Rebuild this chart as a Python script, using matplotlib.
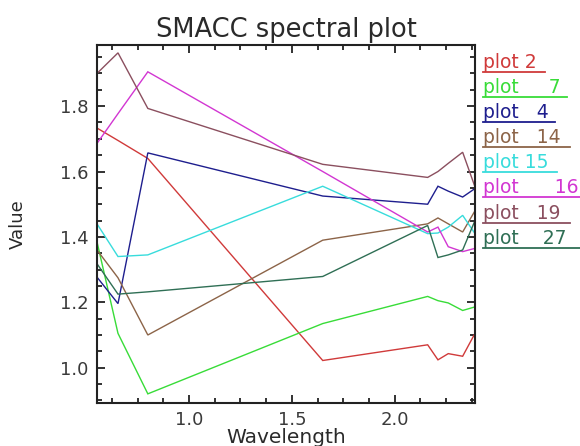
import matplotlib
matplotlib.use("Agg")
import matplotlib.pyplot as plt
from matplotlib.ticker import MultipleLocator, FormatStrFormatter
from matplotlib.lines import Line2D

# ---- data ----
wavelength = [0.553, 0.655, 0.80, 1.65, 2.16, 2.21, 2.26, 2.33, 2.39]

plot_2 = [1.733, 1.695, 1.640, 1.022, 1.070, 1.024, 1.043, 1.035, 1.105]
plot_7 = [1.385, 1.105, 0.920, 1.135, 1.218, 1.205, 1.198, 1.175, 1.186]
plot_4 = [1.277, 1.196, 1.657, 1.525, 1.500, 1.555, 1.540, 1.522, 1.548]
plot_14 = [1.360, 1.275, 1.100, 1.390, 1.440, 1.458, 1.440, 1.415, 1.480]
plot_15 = [1.440, 1.340, 1.345, 1.555, 1.410, 1.412, 1.430, 1.466, 1.410]
plot_16 = [1.686, 1.777, 1.905, 1.600, 1.415, 1.430, 1.370, 1.355, 1.365]
plot_19 = [1.900, 1.963, 1.793, 1.622, 1.582, 1.600, 1.625, 1.659, 1.553]
plot_27 = [1.318, 1.225, 1.232, 1.279, 1.435, 1.337, 1.345, 1.360, 1.450]

series_names = ["plot 2", "plot     7", "plot   4", "plot   14",
                "plot 15", "plot      16", "plot   19", "plot    27"]
series_values = [plot_2, plot_7, plot_4, plot_14, plot_15, plot_16, plot_19, plot_27]
series_colors = ["#d03a3a", "#38dc38", "#1e1e8e", "#8c6448",
                 "#38dcdc", "#d236d2", "#8b4f5f", "#2f6f55"]

title = "SMACC spectral plot"
x_label = "Wavelength"
y_label = "Value"

# ---- figure ----
W, H = 580, 446
fig = plt.figure(figsize=(W / 100, H / 100), dpi=100)
fig.patch.set_facecolor("white")

L, R, T, B = 97, 475, 45, 403
ax = fig.add_axes([L / W, 1 - B / H, (R - L) / W, (B - T) / H])

for vals, col in zip(series_values, series_colors):
    ax.plot(wavelength, vals, color=col, lw=1.0, solid_joinstyle="miter")

ax.set_xlim(0.553, 2.39)
ax.set_ylim(0.892, 1.987)

ax.xaxis.set_major_locator(MultipleLocator(0.5))
ax.xaxis.set_minor_locator(MultipleLocator(0.125))
ax.yaxis.set_major_locator(MultipleLocator(0.2))
ax.yaxis.set_minor_locator(MultipleLocator(0.05))
ax.xaxis.set_major_formatter(FormatStrFormatter("%.1f"))
ax.yaxis.set_major_formatter(FormatStrFormatter("%.1f"))

ax.tick_params(which="both", direction="in", top=True, right=True,
               color="#222222", width=1.3)
ax.tick_params(which="major", length=6, labelsize=13, pad=6,
               labelcolor="#3a3a3a")
ax.tick_params(which="minor", length=3.5)
for sp in ax.spines.values():
    sp.set_linewidth(1.5)
    sp.set_color("#222222")

# title and axis labels
fig.text(286 / W, 1 - 37 / H, title, ha="center", va="baseline",
         fontsize=18.5, color="#2a2a2a")
fig.text(286 / W, 1 - 443 / H, x_label, ha="center", va="baseline",
         fontsize=14.5, color="#2a2a2a")
fig.text(18 / W, 1 - 224 / H, y_label, ha="center", va="center",
         rotation=90, fontsize=13, color="#2a2a2a")

# legend (text with coloured underline)
under_y = [72.3, 96.7, 121.7, 147.3, 171.7, 196.7, 222.7, 248.3]
under_x2 = [545, 567, 555, 570, 557, 580, 570, 580]
for name, col, uy, ux2 in zip(series_names, series_colors, under_y, under_x2):
    fig.text(483 / W, 1 - (uy - 4) / H, name, ha="left", va="baseline",
             fontsize=13.5, color=col)
    fig.add_artist(Line2D([483 / W, ux2 / W], [1 - uy / H, 1 - uy / H],
                          color=col, lw=1.3, transform=fig.transFigure))

fig.savefig("out.png", dpi=100, facecolor="white")
